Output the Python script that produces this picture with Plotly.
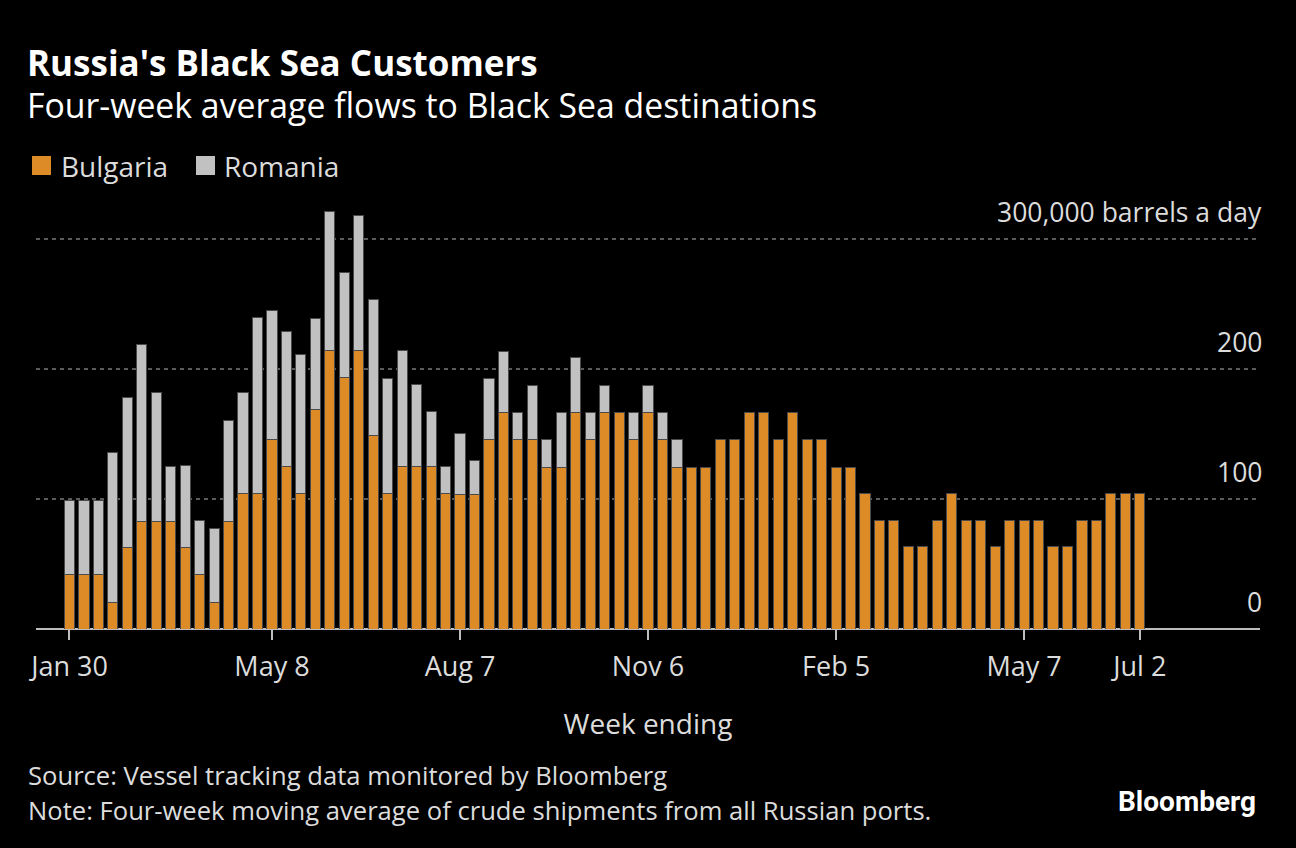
import pandas as pd
import plotly.graph_objects as go

# weekly data, thousand barrels a day (4-week avg), week ending Sunday
weeks = pd.date_range("2022-01-30", periods=75, freq="W-SUN")

bulgaria = [41.7, 41.7, 41.7, 20.7, 62.7, 82.6, 82.6, 82.6, 62.7, 41.7,
            20.7, 82.6, 103.8, 103.8, 145.8, 124.6, 103.8, 168.8, 213.8, 193.1,
            213.8, 148.6, 103.8, 124.6, 124.6, 124.6, 103.8, 103.6, 103.6, 145.4,
            166.6, 145.4, 145.4, 124.5, 124.5, 166.6, 145.4, 166.6, 166.6, 145.4,
            166.6, 145.4, 124.5, 124.5, 124.5, 145.4, 145.4, 166.6, 166.6, 145.4,
            166.6, 145.4, 145.4, 124.5, 124.5, 104.4, 83.2, 83.2, 63.1, 63.1,
            83.2, 104.4, 83.2, 83.2, 63.1, 83.2, 83.2, 83.2, 63.1, 63.1,
            83.2, 83.2, 104.4, 104.4, 104.4]

romania = [57.0, 57.0, 57.0, 114.8, 115.0, 136.1, 99.0, 42.0, 62.9, 41.9,
           56.8, 78.0, 77.8, 135.8, 99.0, 104.0, 106.9, 70.1, 106.9, 80.8,
           104.1, 104.3, 88.8, 89.2, 63.1, 42.2, 20.8, 46.7, 25.7, 46.9,
           46.7, 21.2, 41.8, 20.9, 42.1, 41.8, 21.2, 20.6, 0, 21.2,
           20.6, 21.2, 20.9, 0, 0, 0, 0, 0, 0, 0,
           0, 0, 0, 0, 0, 0, 0, 0, 0, 0,
           0, 0, 0, 0, 0, 0, 0, 0, 0, 0,
           0, 0, 0, 0, 0]

tick_dates = ["2022-01-30", "2022-05-08", "2022-08-07", "2022-11-06",
              "2023-02-05", "2023-05-07", "2023-07-02"]
tick_text = ["Jan 30", "May 8", "Aug 7", "Nov 6", "Feb 5", "May 7", "Jul 2"]

y_vals = [0, 100, 200, 300]
y_text = ["0", "100", "200", "300,000 barrels a day"]

ORANGE = "#DC8B26"
GRAY = "#C1C1C1"
TXT = "#dcdcdc"
FONT = "Open Sans"

fig = go.Figure()
fig.add_trace(go.Bar(x=weeks, y=bulgaria, name="Bulgaria", showlegend=False,
                     marker=dict(color=ORANGE, line=dict(color="#4a4a4a", width=1))))
fig.add_trace(go.Bar(x=weeks, y=romania, name="Romania", showlegend=False,
                     marker=dict(color=GRAY, line=dict(color="#4a4a4a", width=1))))

L, T, W, H = 36, 200, 1224, 429


def px(x):
    return (x - L) / W


def py(y):
    return (T + H - y) / H


fig.update_layout(
    width=1296, height=848,
    barmode="stack", bargap=0.3,
    paper_bgcolor="#000000", plot_bgcolor="#000000",
    margin=dict(l=L, r=1296 - L - W, t=T, b=848 - T - H, pad=0),
    font=dict(family=FONT, color=TXT),
    xaxis=dict(type="date", tickmode="array", range=["2022-01-13 19:00", "2023-08-29 04:00"],
               tickvals=tick_dates, ticktext=tick_text,
               tickfont=dict(size=27, color=TXT), ticklabelstandoff=4,
               ticks="outside", ticklen=10, tickwidth=2, tickcolor="#bdbdbd",
               showgrid=False, showline=False, zeroline=False,
               title=dict(text="Week ending", font=dict(size=28, color=TXT), standoff=30)),
    yaxis=dict(range=[0, 329.7], tickmode="array", tickvals=y_vals,
               showticklabels=False, ticks="",
               showgrid=True, gridcolor="#5a5a5a", gridwidth=2, griddash="4px,4px",
               zeroline=True, zerolinecolor="#bdbdbd", zerolinewidth=2,
               showline=False),
)

# y tick labels sit above their gridlines at the right edge
for v, t in zip(y_vals, y_text):
    fig.add_annotation(text=t, xref="paper", yref="y", x=px(1264), y=v,
                       xanchor="right", yanchor="middle", yshift=27, showarrow=False,
                       font=dict(size=26.5, color=TXT))

annotations = [
    dict(text="<b>Russia's Black Sea Customers</b>", x=px(27), y=py(62.5), font=dict(size=35, color="#ffffff")),
    dict(text="Four-week average flows to Black Sea destinations", x=px(27), y=py(104.5), font=dict(size=33.8, color="#ffffff")),
    dict(text="Bulgaria", x=px(61), y=py(165.5), font=dict(size=28, color=TXT)),
    dict(text="Romania", x=px(224), y=py(165.5), font=dict(size=28, color=TXT)),
    dict(text="Source: Vessel tracking data monitored by Bloomberg", x=px(28), y=py(775.5), font=dict(size=25.6, color=TXT)),
    dict(text="Note: Four-week moving average of crude shipments from all Russian ports.", x=px(28), y=py(810.5), font=dict(size=25.6, color=TXT)),
]
for a in annotations:
    a.update(xref="paper", yref="paper", xanchor="left", yanchor="middle", showarrow=False,
             borderpad=0, borderwidth=0)
    fig.add_annotation(**a)

# legend keys
for x0, col in [(32, ORANGE), (196, GRAY)]:
    fig.add_shape(type="rect", xref="paper", yref="paper", x0=px(x0), x1=px(x0 + 19),
                  y0=py(175), y1=py(156), fillcolor=col, line=dict(width=0))

fig.add_annotation(text="<b>Bloomberg</b>", xref="paper", yref="paper", x=px(1258), y=py(801),
                   xanchor="right", yanchor="middle", showarrow=False,
                   font=dict(size=28, color="#ffffff", family="Roboto"))

fig.write_html("out.html", config={"displayModeBar": False},
               post_script="document.body.style.margin='0';document.body.style.overflow='hidden';")
